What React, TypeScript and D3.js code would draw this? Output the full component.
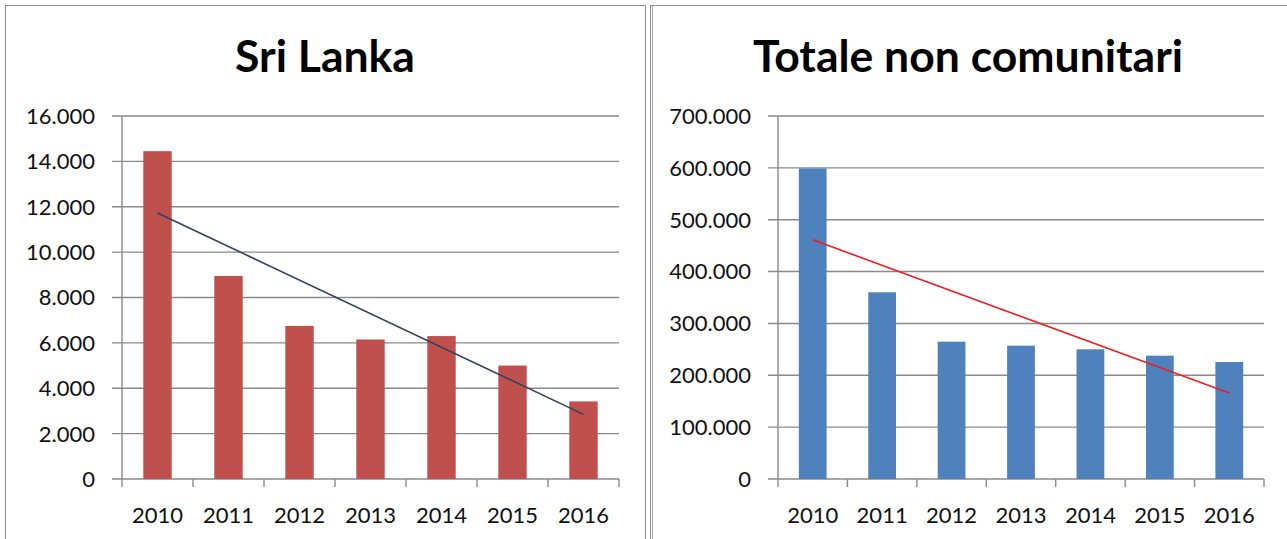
import React from 'react';
import * as d3 from 'd3';

// anni sull'asse x
const years = ['2010', '2011', '2012', '2013', '2014', '2015', '2016'];
// valori
const sriLanka = [14450, 8950, 6750, 6150, 6300, 5000, 3420];
const totaleNonComunitari = [599000, 360000, 264800, 257100, 250100, 237800, 225600];
// assi y
const sriLankaTicks = [0, 2000, 4000, 6000, 8000, 10000, 12000, 14000, 16000];
const totaleTicks = [0, 100000, 200000, 300000, 400000, 500000, 600000, 700000];

const it = d3.formatLocale({ decimal: ',', thousands: '.', grouping: [3], currency: ['€', ''] });
const fmt = it.format(',');

const GRID = '#8a8a8a';
const FONT = 'Lato, "DejaVu Sans", sans-serif';

// retta dei minimi quadrati (linea di tendenza lineare)
function trend(values: number[]) {
    const n = values.length;
    const xs = values.map((_, i) => i + 1);
    const mx = d3.mean(xs) as number;
    const my = d3.mean(values) as number;
    let sxy = 0, sxx = 0;
    xs.forEach((x, i) => {
        sxy += (x - mx) * (values[i] - my);
        sxx += (x - mx) * (x - mx);
    });
    const slope = sxy / sxx;
    return xs.map((x) => my + slope * (x - mx)).filter((_, i) => i === 0 || i === n - 1);
}

type PanelProps = {
    title: string;
    values: number[];
    ticks: number[];
    barColor: string;
    trendColor: string;
    left: number;
    right: number;
    titleX: number;
};

const Panel = ({ title, values, ticks, barColor, trendColor, left, right, titleX }: PanelProps) => {
    const top = 116;
    const bottom = 479;
    const x = d3.scaleBand().domain(years).range([left, right]).paddingInner(0.6).paddingOuter(0.3);
    const step = x.step();
    const y = d3.scaleLinear().domain([0, d3.max(ticks) as number]).range([bottom, top]);
    const t = trend(values);
    const first = years[0];
    const last = years[years.length - 1];
    const cx = (k: string) => (x(k) as number) + x.bandwidth() / 2;
    const line = d3.line<[number, number]>().x((d) => d[0]).y((d) => d[1]);

    return (
        <g>
            <text x={titleX} y={72} textAnchor="middle" fontFamily={FONT} fontWeight="bold" fontSize={44.5} fill="#000">
                {title}
            </text>
            {ticks.map((v) => (
                <g key={v}>
                    <line x1={left - 10} x2={right} y1={y(v)} y2={y(v)} stroke={GRID} strokeWidth={1.4} />
                    <text x={left - 27} y={y(v)} dy="0.36em" textAnchor="end" fontFamily={FONT} fontSize={22} fill="#111">
                        {fmt(v)}
                    </text>
                </g>
            ))}
            <line x1={left} x2={left} y1={top} y2={bottom + 8} stroke={GRID} strokeWidth={1.4} />
            {years.map((yr, i) => (
                <line key={yr} x1={left + step * (i + 1)} x2={left + step * (i + 1)} y1={bottom} y2={bottom + 8} stroke={GRID} strokeWidth={1.4} />
            ))}
            {values.map((v, i) => (
                <rect key={years[i]} x={x(years[i])} y={y(v)} width={x.bandwidth()} height={bottom - y(v)} fill={barColor} />
            ))}
            <path
                d={line([[cx(first), y(t[0])], [cx(last), y(t[1])]]) as string}
                fill="none"
                stroke={trendColor}
                strokeWidth={1.6}
            />
            {years.map((yr) => (
                <text key={yr} x={cx(yr)} y={515} dy="0.36em" textAnchor="middle" fontFamily={FONT} fontSize={22} fill="#111">
                    {yr}
                </text>
            ))}
        </g>
    );
};

export default function App() {
    return (
        <svg width={1287} height={539} style={{ position: 'absolute', left: 0, top: 0, background: '#fff' }}>
            <rect x={0} y={0} width={1287} height={539} fill="#fff" />
            <rect x={5.5} y={5.5} width={640} height={545} fill="none" stroke="#8e8e8e" strokeWidth={1} />
            <rect x={650.5} y={5.5} width={650} height={545} fill="none" stroke="#8e8e8e" strokeWidth={1} />
            <line x1={652.5} x2={652.5} y1={5.5} y2={539} stroke="#a8a8a8" strokeWidth={1} />
            <Panel
                title="Sri Lanka"
                values={sriLanka}
                ticks={sriLankaTicks}
                barColor="#c0504d"
                trendColor="#33415a"
                left={122}
                right={619}
                titleX={325}
            />
            <Panel
                title="Totale non comunitari"
                values={totaleNonComunitari}
                ticks={totaleTicks}
                barColor="#4f81bd"
                trendColor="#f01c24"
                left={778}
                right={1264}
                titleX={968}
            />
        </svg>
    );
}
